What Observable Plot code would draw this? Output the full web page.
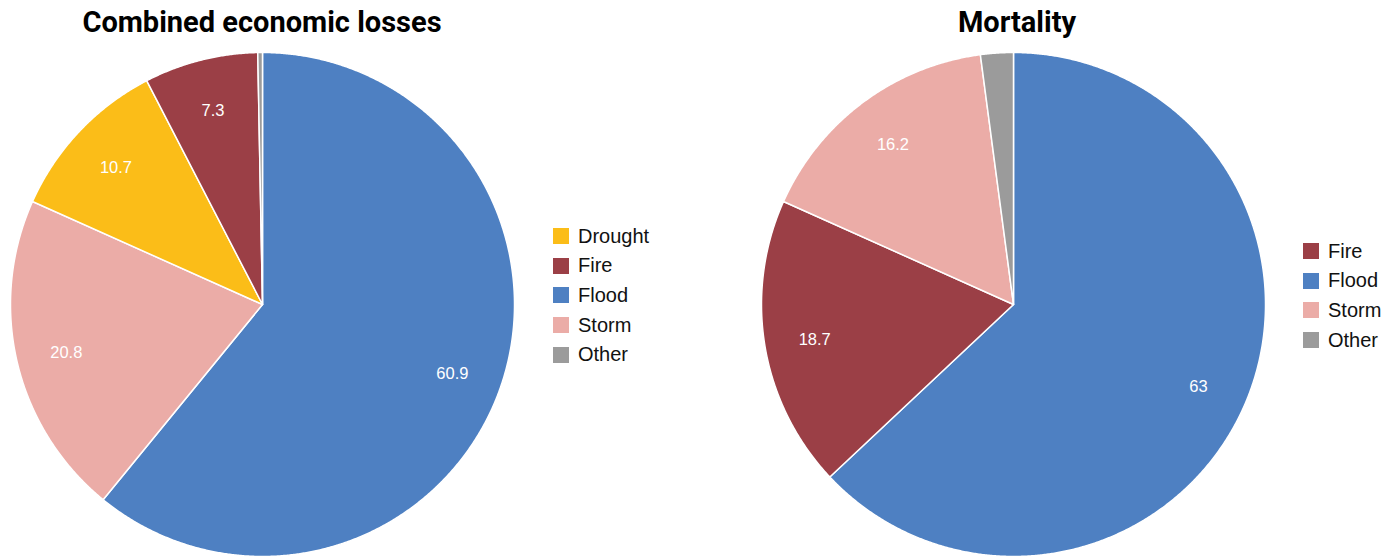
<!DOCTYPE html>
<html>
<head>
<meta charset="utf-8">
<script src="https://cdn.jsdelivr.net/npm/d3@7"></script>
<script src="https://cdn.jsdelivr.net/npm/@observablehq/plot@0.6"></script>
<style>
  body { margin: 0; background: #fff; }
  #root { position: relative; width: 1384px; height: 556px; overflow: hidden; }
  .title { position: absolute; top: 4px; font-family: Roboto, "DejaVu Sans", sans-serif; font-weight: 700; font-size: 29px; line-height: 36px; color: #000; transform: translateX(-50%); white-space: nowrap; }
  .pie { position: absolute; }
  .legend { position: absolute; font-family: "Liberation Sans", Arial, sans-serif; font-size: 20px; color: #111; }
  .legend .item { position: absolute; left: 0; height: 20px; display: flex; align-items: center; white-space: nowrap; }
  .legend .sw { width: 16px; height: 16px; margin-right: 9px; }
</style>
</head>
<body>
<div id="root"></div>
<script>
// ---- data ----
const lossCategories = ["Flood", "Storm", "Drought", "Fire", "Other"];
const lossValues = [60.9, 20.8, 10.7, 7.3, 0.3];
const lossLabels = ["60.9", "20.8", "10.7", "7.3", ""];
const lossLegend = ["Drought", "Fire", "Flood", "Storm", "Other"];

const mortCategories = ["Flood", "Fire", "Storm", "Other"];
const mortValues = [63, 18.7, 16.2, 2.1];
const mortLabels = ["63", "18.7", "16.2", ""];
const mortLegend = ["Fire", "Flood", "Storm", "Other"];

const colorDomain = ["Drought", "Fire", "Flood", "Storm", "Other"];
const colorRange = ["#fbbd18", "#9b3f46", "#4e80c2", "#ebaca7", "#9b9b9b"];

const root = document.getElementById("root");

function makePie(cats, vals, labels, size) {
  const total = d3.sum(vals);
  const rows = [];
  const texts = [];
  let acc = 0;
  cats.forEach((c, i) => {
    const a0 = acc / total * 2 * Math.PI;
    acc += vals[i];
    const a1 = acc / total * 2 * Math.PI;
    const n = Math.max(2, Math.ceil((a1 - a0) / 0.005));
    rows.push({cat: c, x: 0, y: 0});
    for (let k = 0; k <= n; k++) {
      const a = a0 + (a1 - a0) * k / n;
      rows.push({cat: c, x: Math.sin(a), y: Math.cos(a)});
    }
    rows.push({cat: c, x: 0, y: 0});
    const am = (a0 + a1) / 2;
    texts.push({cat: c, label: labels[i], x: 0.8 * Math.sin(am), y: 0.8 * Math.cos(am)});
  });
  return Plot.plot({
    width: size, height: size,
    margin: 0,
    x: {domain: [-1, 1], axis: null},
    y: {domain: [-1, 1], axis: null},
    color: {domain: colorDomain, range: colorRange},
    marks: [
      Plot.line(rows, {x: "x", y: "y", z: "cat", fill: "cat", stroke: "#fff", strokeWidth: 1.5, strokeLinejoin: "round", curve: "linear"}),
      Plot.text(texts, {x: "x", y: "y", text: "label", dy: 2, fill: "#fff", fontSize: 16.5, fontFamily: "Liberation Sans, Arial, sans-serif"})
    ]
  });
}

function place(el, left, top) {
  el.classList.add("pie");
  el.style.left = left + "px";
  el.style.top = top + "px";
  root.appendChild(el);
}

function title(text, cx) {
  const d = document.createElement("div");
  d.className = "title";
  d.textContent = text;
  d.style.left = cx + "px";
  root.appendChild(d);
}

function legend(items, left, top) {
  const d = document.createElement("div");
  d.className = "legend";
  d.style.left = left + "px";
  d.style.top = top + "px";
  items.forEach((c, i) => {
    const it = document.createElement("div");
    it.className = "item";
    it.style.top = (i * 29.7) + "px";
    const sw = document.createElement("span");
    sw.className = "sw";
    sw.style.background = colorRange[colorDomain.indexOf(c)];
    it.appendChild(sw);
    it.appendChild(document.createTextNode(c));
    d.appendChild(it);
  });
  root.appendChild(d);
}

const R = 252;
place(makePie(lossCategories, lossValues, lossLabels, 2 * R), 262 - R, 304 - R);
place(makePie(mortCategories, mortValues, mortLabels, 2 * R), 1013 - R, 304 - R);
title("Combined economic losses", 262);
title("Mortality", 1017);
legend(lossLegend, 553, 226);
legend(mortLegend, 1303, 241);
</script>
</body>
</html>
